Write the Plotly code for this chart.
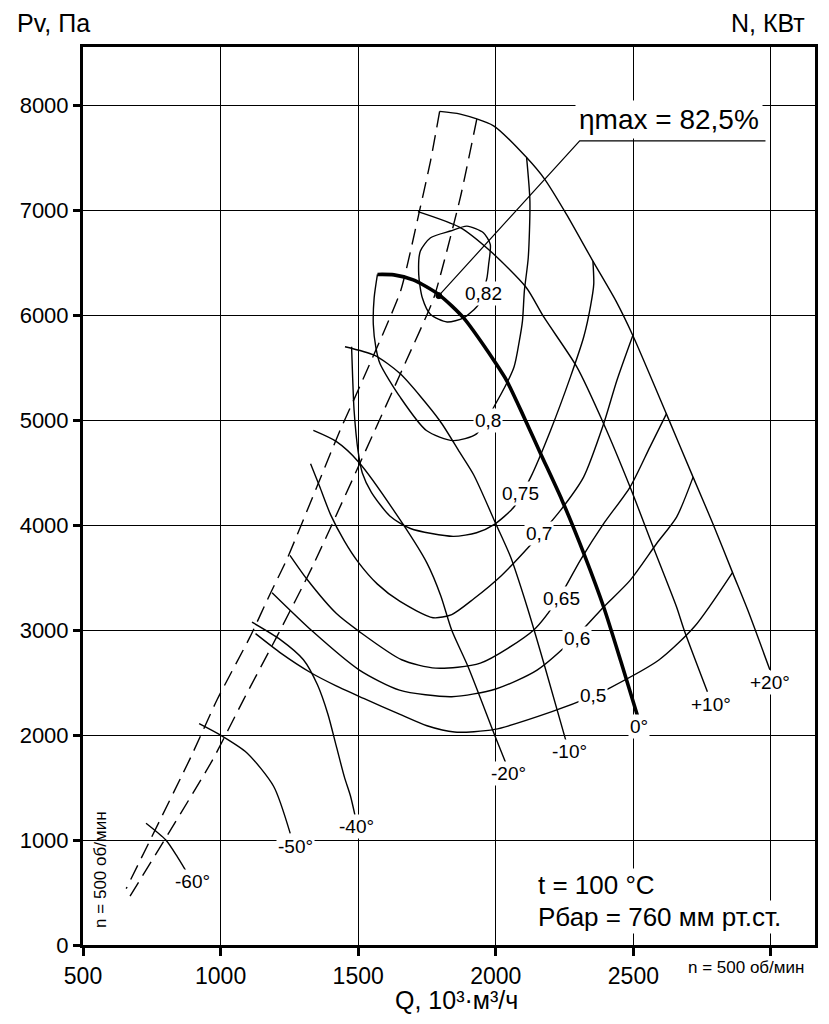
import plotly.graph_objects as go

# ---------------- data (Q in 10^3 m3/h, Pv in Pa) ----------------
# fan characteristics for blade angles
Q_P20 = [1796, 1871, 1992, 2112, 2178, 2257, 2353, 2437, 2498, 2620, 2717, 2789, 2862, 2916, 2996]
P_P20 = [7946, 7920, 7809, 7506, 7299, 6965, 6519, 6137, 5810, 5063, 4460, 4016, 3540, 3190, 2623]

Q_P10 = [1717, 1871, 1980, 2110, 2175, 2295, 2392, 2488, 2572, 2657, 2684, 2769]
P_P10 = [6990, 6838, 6615, 6270, 5984, 5508, 4968, 4365, 3794, 3222, 3006, 2415]

Q_0 = [1570, 1630, 1700, 1793, 1883, 1967, 2000, 2039, 2080, 2108, 2163, 2241, 2325, 2392, 2455, 2516]
P_0 = [6392, 6388, 6340, 6200, 5978, 5675, 5545, 5383, 5160, 5000, 4683, 4238, 3698, 3222, 2700, 2176]

Q_M10 = [1452, 1560, 1652, 1796, 1868, 1920, 2000, 2054, 2114, 2178, 2256]
P_M10 = [5703, 5620, 5447, 5000, 4700, 4480, 4016, 3698, 3222, 2655, 1936]

Q_M20 = [1337, 1420, 1503, 1658, 1750, 1800, 1840, 1899, 1996, 2035]
P_M20 = [4905, 4800, 4600, 4030, 3640, 3330, 3000, 2655, 2000, 1744]

Q_M40 = [1114, 1217, 1301, 1352, 1390, 1420, 1450, 1472, 1488]
P_M40 = [3077, 2911, 2719, 2480, 2200, 1900, 1600, 1420, 1240]

Q_M50 = [922, 1000, 1096, 1193, 1253]
P_M50 = [2110, 2000, 1831, 1511, 1064]

Q_M60 = [729, 801, 843, 880]
P_M60 = [1160, 1000, 840, 680]

# efficiency contours
Q_E82 = [1835, 1895, 1955, 1980, 1974, 1968, 1955, 1937, 1883, 1823, 1763, 1733, 1720, 1726, 1763, 1835]
P_E82 = [6806, 6853, 6790, 6678, 6487, 6360, 6240, 6105, 5978, 5939, 6009, 6169, 6392, 6615, 6742, 6806]

Q_E80 = [1570, 1558, 1555, 1564, 1579, 1652, 1748, 1845, 1930, 2003, 2066, 2085, 2097, 2104, 2118, 2124, 2112]
P_E80 = [6392, 6169, 5914, 5700, 5543, 5224, 4904, 4808, 4872, 5176, 5508, 5750, 5950, 6238, 6551, 7092, 7506]

Q_E75 = [1476, 1480, 1485, 1500, 1515, 1548, 1615, 1690, 1845, 1930, 1995, 2066, 2127, 2199, 2271, 2320, 2345, 2356, 2353]
P_E75 = [5703, 5400, 5100, 4700, 4500, 4315, 4090, 3970, 3895, 3930, 4010, 4175, 4460, 4905, 5413, 5800, 6100, 6300, 6519]

Q_E70 = [1327, 1360, 1400, 1450, 1500, 1570, 1652, 1772, 1840, 1920, 2020, 2127, 2235, 2319, 2392, 2440, 2498]
P_E70 = [4587, 4370, 4100, 3850, 3650, 3440, 3275, 3120, 3150, 3300, 3520, 3815, 4143, 4460, 4968, 5381, 5810]

Q_E65 = [1252, 1314, 1421, 1503, 1658, 1782, 1944, 2139, 2235, 2307, 2392, 2488, 2560, 2620]
P_E65 = [3714, 3486, 3159, 2990, 2719, 2639, 2687, 3006, 3333, 3667, 4016, 4365, 4746, 5063]

Q_E60 = [1187, 1334, 1503, 1650, 1840, 2000, 2150, 2295, 2392, 2488, 2584, 2657, 2717]
P_E60 = [3358, 2990, 2623, 2430, 2367, 2440, 2620, 2950, 3222, 3476, 3825, 4079, 4460]

Q_E50 = [1127, 1220, 1325, 1420, 1520, 1650, 1750, 1850, 1996, 2204, 2353, 2412, 2594, 2723, 2860]
P_E50 = [2968, 2780, 2600, 2470, 2350, 2200, 2090, 2030, 2055, 2224, 2374, 2447, 2719, 3038, 3550]

# stall boundaries (dashed)
Q_BND_L = [1796, 1763, 1720, 1654, 1494, 1434, 1241, 1182, 1107, 988, 892, 657]
P_BND_L = [7946, 7475, 6965, 6233, 5254, 4905, 3677, 3358, 2937, 2342, 1792, 537]
Q_BND_R = [1931, 1871, 1775, 1675, 1335, 1204, 1084, 970, 663]
P_BND_R = [7873, 7124, 6169, 5571, 3613, 2937, 2342, 1760, 431]

# max efficiency point and its callout
ETA_MAX_Q = [1793]
ETA_MAX_P = [6190]
ETA_CALLOUT_Q = [1793, 2305, 2980]
ETA_CALLOUT_P = [6190, 7666, 7666]

# labels
ANGLE_TEXT = ["+20°", "+10°", "0°", "-10°", "-20°", "-40°", "-50°", "-60°"]
ANGLE_Q = [2996, 2782, 2522, 2269, 2048, 1494, 1271, 898]
ANGLE_P = [2502, 2297, 2080, 1840, 1633, 1134, 936, 601]

EFF_TEXT = ["0,82", "0,8", "0,75", "0,7", "0,65", "0,6", "0,5"]
EFF_Q = [1955, 1970, 2091, 2158, 2237, 2295, 2353]
EFF_P = [6210, 5000, 4307, 3923, 3307, 2920, 2374]

X_TICKS = [500, 1000, 1500, 2000, 2500, 3000]
X_TICK_TEXT = ["500", "1000", "1500", "2000", "2500", ""]
Y_TICKS = [0, 1000, 2000, 3000, 4000, 5000, 6000, 7000, 8000]
Y_TICK_TEXT = ["0", "1000", "2000", "3000", "4000", "5000", "6000", "7000", "8000"]

# ---------------- figure ----------------
FONT = "Liberation Sans, Arial, sans-serif"
fig = go.Figure()

def curve(q, p, width=1.4, dash=None, smooth=0.7):
    line = dict(color="black", width=width, shape="spline", smoothing=smooth)
    if dash:
        line["dash"] = dash
    fig.add_trace(go.Scatter(x=q, y=p, mode="lines", line=line,
                             hoverinfo="skip", showlegend=False))

for q, p in [(Q_BND_L, P_BND_L), (Q_BND_R, P_BND_R)]:
    curve(q, p, width=1.4, dash="16px,8px", smooth=0.5)

for q, p in [(Q_E82, P_E82), (Q_E80, P_E80), (Q_E75, P_E75), (Q_E70, P_E70),
             (Q_E65, P_E65), (Q_E60, P_E60), (Q_E50, P_E50)]:
    curve(q, p)

for q, p in [(Q_P20, P_P20), (Q_P10, P_P10), (Q_M10, P_M10), (Q_M20, P_M20),
             (Q_M40, P_M40), (Q_M50, P_M50), (Q_M60, P_M60)]:
    curve(q, p)

curve(Q_0, P_0, width=3.6)

fig.add_trace(go.Scatter(x=ETA_CALLOUT_Q, y=ETA_CALLOUT_P, mode="lines",
                         line=dict(color="black", width=1.2),
                         hoverinfo="skip", showlegend=False))
fig.add_trace(go.Scatter(x=ETA_MAX_Q, y=ETA_MAX_P, mode="markers",
                         marker=dict(color="black", size=6,
                                     line=dict(color="black", width=1)),
                         hoverinfo="skip", showlegend=False))

ann = []
for t, q, p in zip(ANGLE_TEXT, ANGLE_Q, ANGLE_P):
    ann.append(dict(x=q, y=p, text=t, showarrow=False, bgcolor="white",
                    borderpad=1, font=dict(size=19, color="black", family=FONT)))
for t, q, p in zip(EFF_TEXT, EFF_Q, EFF_P):
    ann.append(dict(x=q, y=p, text=t, showarrow=False, bgcolor="white",
                    borderpad=1, font=dict(size=19, color="black", family=FONT)))

ann.append(dict(x=ETA_CALLOUT_Q[-1] - 10, y=ETA_CALLOUT_P[-1] + 20, xanchor="right",
                yanchor="bottom", text="\u03b7max = 82,5%", showarrow=False,
                bgcolor="white", borderpad=3,
                font=dict(size=28, color="black", family=FONT)))

ann.append(dict(x=2145, y=571, xanchor="left", text="t = 100 °C", showarrow=False,
                bgcolor="white", borderpad=1,
                font=dict(size=26, color="black", family=FONT)))
ann.append(dict(x=2145, y=267, xanchor="left", text="Рбар = 760 мм рт.ст.",
                showarrow=False, bgcolor="white", borderpad=1,
                font=dict(size=26, color="black", family=FONT)))
ann.append(dict(x=565, y=715, text="n = 500 об/мин", textangle=-90,
                showarrow=False, font=dict(size=17, color="black", family=FONT)))

ann.append(dict(xref="paper", yref="paper", x=0.906, y=-0.0245, xanchor="center",
                yanchor="middle", text="n = 500 об/мин", showarrow=False,
                font=dict(size=17, color="black", family=FONT)))
ann.append(dict(xref="paper", yref="paper", x=-0.093, y=1.027, xanchor="left",
                yanchor="middle", text="Pv, Па", showarrow=False,
                font=dict(size=25, color="black", family=FONT)))
ann.append(dict(xref="paper", yref="paper", x=0.989, y=1.027, xanchor="right",
                yanchor="middle", text="N, КВт", showarrow=False,
                font=dict(size=25, color="black", family=FONT)))
ann.append(dict(xref="paper", yref="paper", x=0.5096, y=-0.0612, xanchor="center",
                yanchor="middle", text="Q, 10³·м³/ч", showarrow=False,
                font=dict(size=25, color="black", family=FONT)))

# the page body adds an 8px margin, so the figure is sized to fit inside it
fig.update_layout(
    width=821, height=1016,
    margin=dict(l=75, r=14, t=39, b=79),
    paper_bgcolor="white", plot_bgcolor="white",
    showlegend=False,
    annotations=ann,
    font=dict(family=FONT, color="black"),
)
fig.update_xaxes(range=[500, 3160], tickvals=X_TICKS, ticktext=X_TICK_TEXT,
                 showgrid=True, gridcolor="black", gridwidth=1.4,
                 showline=True, linecolor="black", linewidth=3, mirror=True,
                 ticks="outside", ticklen=8, tickwidth=3, tickcolor="black",
                 zeroline=False, tickfont=dict(size=23, color="black", family=FONT))
fig.update_yaxes(range=[0, 8560], tickvals=Y_TICKS, ticktext=Y_TICK_TEXT,
                 showgrid=True, gridcolor="black", gridwidth=1.4,
                 showline=True, linecolor="black", linewidth=3, mirror=True,
                 ticks="outside", ticklen=7, tickwidth=3, tickcolor="black",
                 zeroline=False, tickfont=dict(size=22, color="black", family=FONT))

fig.write_html("out.html")
